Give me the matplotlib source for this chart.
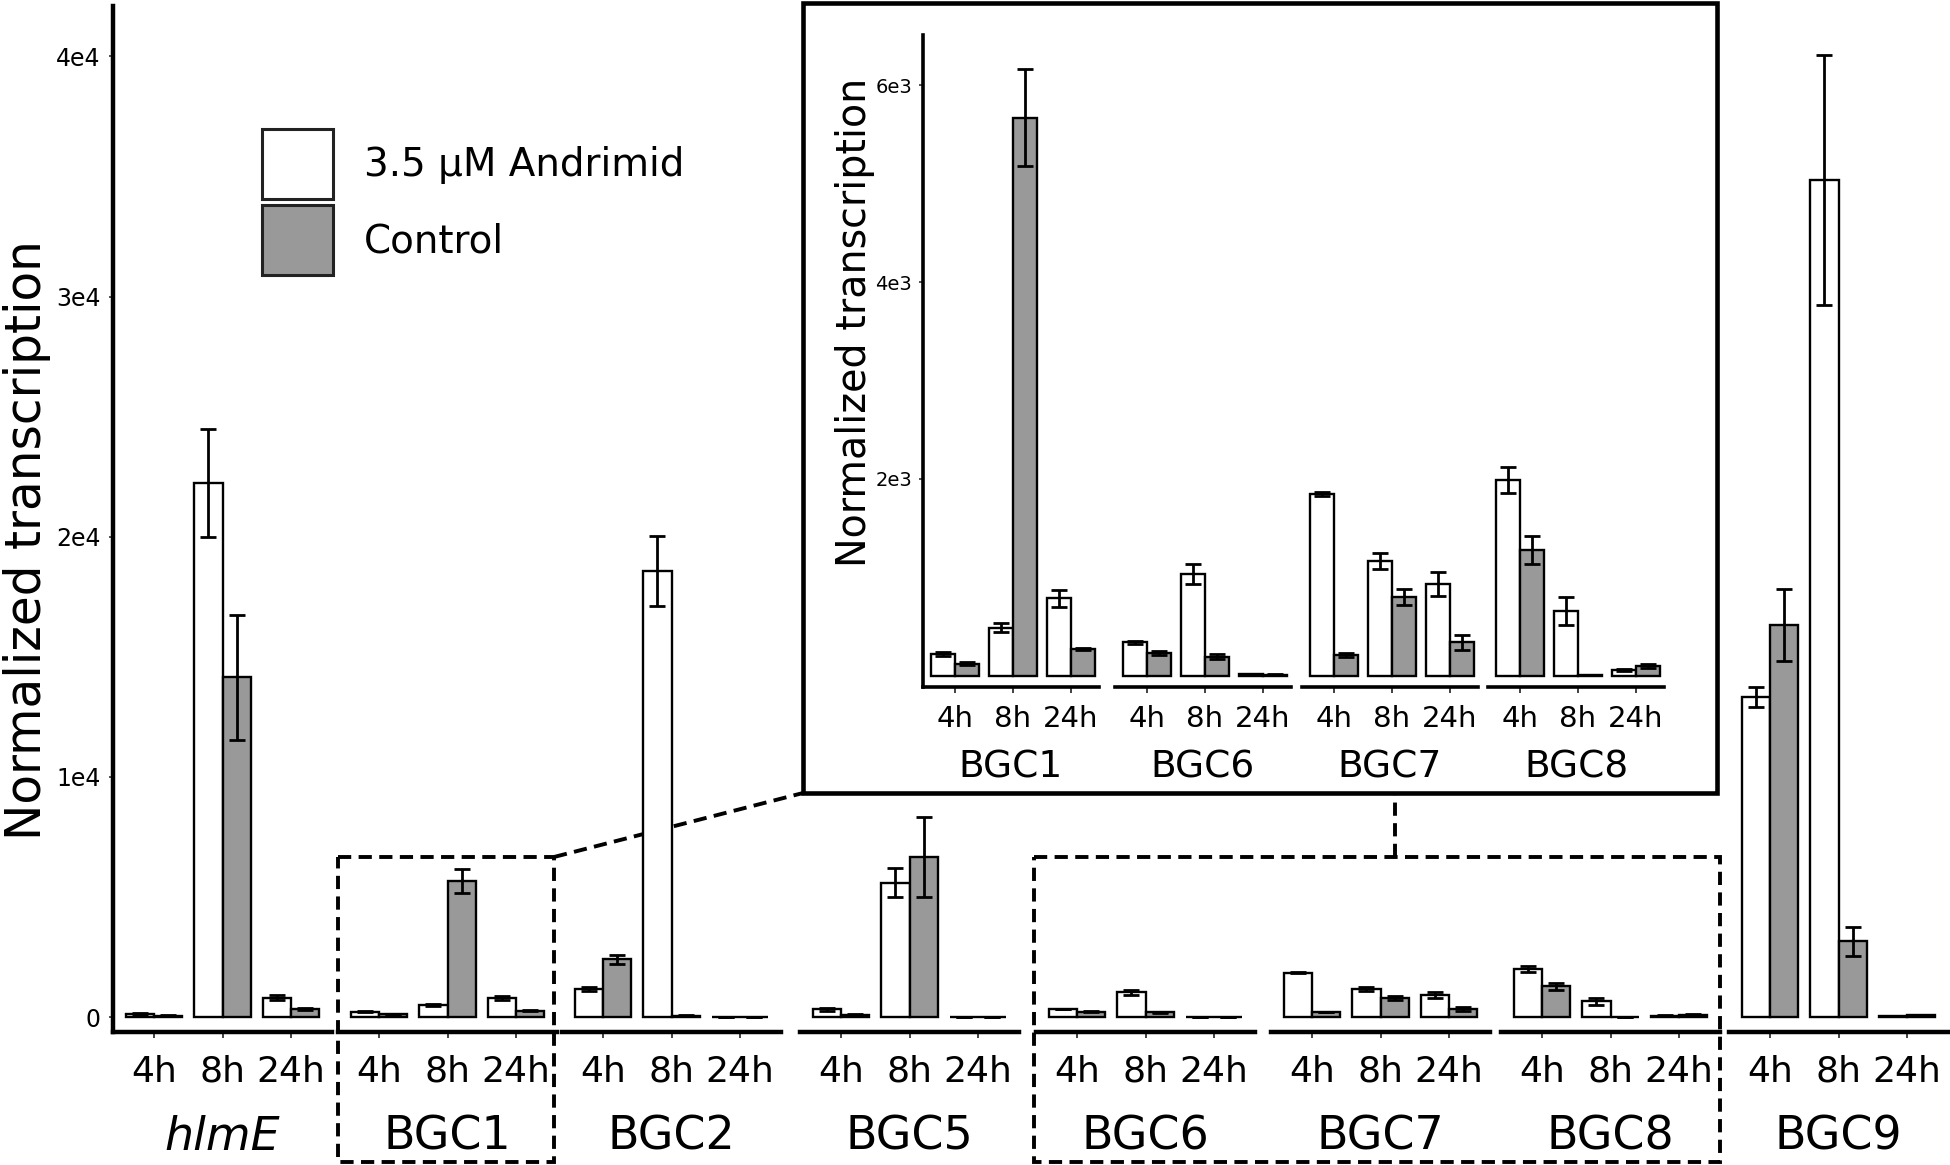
import matplotlib

matplotlib.use("Agg")

import matplotlib.pyplot as plt  # noqa: E402
import numpy as np  # noqa: E402
from matplotlib.patches import Patch, Rectangle  # noqa: E402

plt.rcParams["font.family"] = ["DejaVu Sans"]

# --- data -------------------------------------------------------------------
groups = ["hlmE", "BGC1", "BGC2", "BGC5", "BGC6", "BGC7", "BGC8", "BGC9"]
times = ["4h", "8h", "24h"]
series = ["3.5 µM Andrimid", "Control"]

andrimid_mean = [
    [140, 22230, 810],
    [223, 490, 789],
    [1165, 18570, 15],
    [320, 5590, 15],
    [342, 1032, 16],
    [1848, 1168, 934],
    [1990, 660, 61],
    [13330, 34850, 40],
]
andrimid_err = [
    [40, 2250, 100],
    [20, 45, 85],
    [90, 1450, 0],
    [60, 600, 0],
    [15, 100, 3],
    [20, 80, 124],
    [132, 138, 10],
    [400, 5200, 10],
]
control_mean = [
    [60, 14150, 340],
    [122, 5670, 274],
    [2400, 60, 10],
    [85, 6670, 10],
    [230, 196, 14],
    [213, 799, 342],
    [1279, 10, 101],
    [16340, 3150, 70],
]
control_err = [
    [20, 2600, 60],
    [15, 490, 15],
    [190, 30, 0],
    [50, 1650, 0],
    [20, 25, 3],
    [20, 83, 76],
    [139, 3, 20],
    [1500, 620, 15],
]

main_yticks = [0, 10000, 20000, 30000, 40000]
main_yticklabels = ["0", "1e4", "2e4", "3e4", "4e4"]
inset_groups = ["BGC1", "BGC6", "BGC7", "BGC8"]
inset_yticks = [2000, 4000, 6000]
inset_yticklabels = ["2e3", "4e3", "6e3"]

# --- layout (pixels of the 1950x1165 canvas) ---------------------------------
W, H = 1950, 1165
MAIN_TOP, MAIN_BOTTOM = 6, 1032
MAIN_LEFTS = [113, 338, 562, 800, 1036, 1271, 1501, 1729]
MAIN_WIDTH = 219
INSET_BOX = (803, 3, 1717, 793)
INSET_TOP, INSET_BOTTOM = 35, 687
INSET_LEFTS = [923, 1115, 1302, 1488]
INSET_WIDTH = 176
ZOOM_TOP, ZOOM_BOTTOM = 857, 1162
VLINK_X = 1395

WHITE = "white"
GREY = "#999999"
BAR_W = 0.41

fig = plt.figure(figsize=(W / 100, H / 100), dpi=100)


def px_axes(left, top, width, height):
    return fig.add_axes([left / W, 1 - (top + height) / H, width / W, height / H])


def draw_panel(ax, gi, xlim, ylim, tick_fs, label_fs, label_y, spine_lw, tick_len, tick_pad):
    x = np.arange(1, len(times) + 1)
    for off, means, errs, color in (
        (-BAR_W / 2, andrimid_mean[gi], andrimid_err[gi], WHITE),
        (BAR_W / 2, control_mean[gi], control_err[gi], GREY),
    ):
        ax.bar(x + off, means, BAR_W, color=color, edgecolor="black", linewidth=1.7, zorder=2)
        ax.errorbar(x + off, means, yerr=errs, fmt="none", ecolor="black",
                    elinewidth=2.0, capsize=5.5, capthick=2.0, zorder=3)
    ax.set_xlim(*xlim)
    ax.set_ylim(*ylim)
    ax.set_facecolor("none")
    ax.set_xticks(x)
    ax.set_xticklabels(times, fontsize=tick_fs)
    ax.tick_params(axis="x", length=tick_len, width=1.3, pad=tick_pad, color="#333333")
    for s in ("top", "right"):
        ax.spines[s].set_visible(False)
    ax.spines["bottom"].set_linewidth(spine_lw)
    ax.spines["left"].set_linewidth(spine_lw)
    style = "italic" if groups[gi] == "hlmE" else "normal"
    ax.text(0.5, label_y, groups[gi], transform=ax.transAxes, ha="center", va="center",
            fontsize=label_fs, fontstyle=style)


# background layer: zoom boxes and connectors (drawn under the bars)
bg = fig.add_axes([0, 0, 1, 1])
bg.set_xlim(0, W)
bg.set_ylim(H, 0)
bg.axis("off")
bg.set_zorder(0)
dash = (0, (3.4, 1.9))
b1_left, b1_right = MAIN_LEFTS[1], MAIN_LEFTS[1] + MAIN_WIDTH - 3
b2_left, b2_right = MAIN_LEFTS[4] - 2, MAIN_LEFTS[6] + MAIN_WIDTH
for l, r in ((b1_left, b1_right), (b2_left, b2_right)):
    bg.add_patch(Rectangle((l, ZOOM_TOP), r - l, ZOOM_BOTTOM - ZOOM_TOP, fill=False,
                           edgecolor="black", linewidth=2.8, linestyle=dash))
bg.plot([b1_right, INSET_BOX[0]], [ZOOM_TOP, INSET_BOX[3]], color="black", lw=2.8, ls=dash)
bg.plot([VLINK_X, VLINK_X], [ZOOM_TOP, INSET_BOX[3]], color="black", lw=2.8, ls=dash)

# main panels
main_h = MAIN_BOTTOM - MAIN_TOP
main_label_y = -(1137 - MAIN_BOTTOM) / main_h
main_axes = []
for gi, left in enumerate(MAIN_LEFTS):
    ax = px_axes(left, MAIN_TOP, MAIN_WIDTH, main_h)
    ax.set_zorder(1)
    draw_panel(ax, gi, (0.4, 3.6), (-620, 42100), 26, 33, main_label_y, 3.2, 4.5, 12)
    if gi == 0:
        ax.set_yticks(main_yticks)
        ax.set_yticklabels(main_yticklabels, fontsize=17)
        ax.tick_params(axis="y", length=3, width=1.2, pad=6, color="#333333")
    else:
        ax.spines["left"].set_visible(False)
        ax.set_yticks([])
    main_axes.append(ax)

fig.text(27 / W, 1 - 540 / H, "Normalized transcription", rotation=90,
         ha="center", va="center", fontsize=35)

handles = [Patch(facecolor=c, edgecolor="#222222", linewidth=2.2) for c in (WHITE, GREY)]
main_axes[0].legend(handles, series, loc="upper left",
                    bbox_to_anchor=(262 / W, 1 - 129 / H), bbox_transform=fig.transFigure,
                    frameon=False, fontsize=28, handlelength=1.83, handleheight=2.4,
                    labelspacing=0.15, handletextpad=0.8, borderpad=0, borderaxespad=0)

# inset frame
top = fig.add_axes([0, 0, 1, 1])
top.set_xlim(0, W)
top.set_ylim(H, 0)
top.axis("off")
top.set_zorder(2)
x0, y0, x1, y1 = INSET_BOX
top.add_patch(Rectangle((x0, y0), x1 - x0, y1 - y0, facecolor="white",
                        edgecolor="black", linewidth=3.3))

# inset panels
inset_h = INSET_BOTTOM - INSET_TOP
inset_label_y = -(767 - INSET_BOTTOM) / inset_h
for k, (name, left) in enumerate(zip(inset_groups, INSET_LEFTS)):
    gi = groups.index(name)
    ax = px_axes(left, INSET_TOP, INSET_WIDTH, inset_h)
    ax.set_zorder(3)
    draw_panel(ax, gi, (0.45, 3.48), (-112, 6508), 21, 27, inset_label_y, 2.6, 4, 9)
    if k == 0:
        ax.set_yticks(inset_yticks)
        ax.set_yticklabels(inset_yticklabels, fontsize=14)
        ax.tick_params(axis="y", length=3, width=1.2, pad=5, color="#333333")
    else:
        ax.spines["left"].set_visible(False)
        ax.set_yticks([])

fig.text(855 / W, 1 - 322 / H, "Normalized transcription", rotation=90,
         ha="center", va="center", fontsize=28.5, zorder=4)

fig.savefig("out.png", dpi=100, facecolor="white")
